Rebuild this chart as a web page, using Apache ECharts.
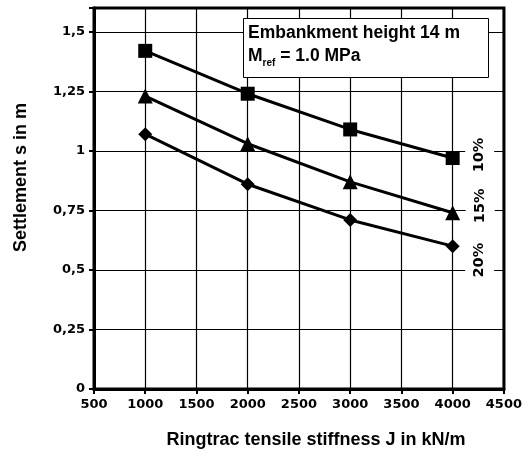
<!DOCTYPE html>
<html>
<head>
<meta charset="utf-8">
<script src="https://cdn.jsdelivr.net/npm/echarts@6/dist/echarts.min.js"></script>
<style>
  html, body { margin: 0; padding: 0; background: #fff; }
  #chart { width: 525px; height: 455px; }
</style>
</head>
<body>
<div id="chart"></div>
<script>
// stiffness J in kN/m
var stiffness = [1000, 2000, 3000, 4000]
// settlement s in m, one array per geogrid ratio
var settle10 = [1.42, 1.24, 1.09, 0.97]
var settle15 = [1.23, 1.03, 0.87, 0.74]
var settle20 = [1.07, 0.86, 0.71, 0.60]
var curveNames = ['10%', '15%', '20%']

function fmtComma(v) {
  if (Math.abs(v / 0.25 - Math.round(v / 0.25)) > 1e-6) return ''
  return String(+v.toFixed(2)).replace('.', ',')
}

var tickFont = { fontFamily: 'DejaVu Sans', fontWeight: 'bold', fontSize: 13, color: '#000' }

// only the last point of each curve carries the name label
// offset is in the rotated label frame: negative x moves the label down
function curve(name, ys, symbol, size, shiftDown) {
  var data = stiffness.map(function (x, i) {
    if (i < ys.length - 1) return [x, ys[i]]
    return {
      value: [x, ys[i]],
      label: {
        show: true,
        position: 'right',
        distance: 20,
        rotate: 90,
        align: 'center',
        verticalAlign: 'middle',
        offset: [-shiftDown, 0],
        formatter: name,
        fontFamily: 'DejaVu Sans',
        fontWeight: 'bold',
        fontSize: 14.5,
        color: '#000',
        backgroundColor: '#fff',
        padding: [7, 1, 7, 1]
      }
    }
  })
  return {
    name: name,
    type: 'line',
    data: data,
    symbol: symbol,
    symbolSize: size,
    lineStyle: { color: '#000', width: 3 },
    itemStyle: { color: '#000' },
    label: { show: false },
    z: 5
  }
}

var chart = echarts.init(document.getElementById('chart'))
chart.setOption({
  animation: false,
  backgroundColor: '#fff',
  grid: { left: 94, right: 20, top: 8, bottom: 66, show: true, borderColor: '#000', borderWidth: 3, backgroundColor: 'transparent' },
  xAxis: {
    type: 'value',
    min: 500,
    max: 4500,
    interval: 500,
    name: 'Ringtrac tensile stiffness J in kN/m',
    nameLocation: 'middle',
    nameGap: 42,
    nameTextStyle: { fontFamily: 'Liberation Sans', fontWeight: 'bold', fontSize: 18, color: '#000', padding: [0, 0, 0, 34] },
    axisLine: { lineStyle: { color: '#000', width: 3 } },
    axisTick: { lineStyle: { color: '#000', width: 2 }, length: 5 },
    axisLabel: Object.assign({ margin: 9, formatter: function (v) { return String(v) } }, tickFont),
    splitLine: { lineStyle: { color: '#000', width: 1.2 } }
  },
  yAxis: {
    type: 'value',
    min: 0,
    max: 1.6,
    interval: 0.25,
    name: 'Settlement s in m',
    nameLocation: 'middle',
    nameGap: 64,
    nameTextStyle: { fontFamily: 'Liberation Sans', fontWeight: 'bold', fontSize: 18, color: '#000', padding: [0, 0, 0, 42] },
    axisLine: { show: true, lineStyle: { color: '#000', width: 3 } },
    axisTick: { show: true, lineStyle: { color: '#000', width: 2 }, length: 5 },
    axisLabel: Object.assign({ margin: 9, formatter: fmtComma }, tickFont),
    splitLine: { lineStyle: { color: '#000', width: 1.2 } }
  },
  series: [
    curve(curveNames[0], settle10, 'rect', 14, -3),
    curve(curveNames[1], settle15, 'triangle', 15, -7),
    curve(curveNames[2], settle20, 'diamond', 14, 14)
  ],
  graphic: [{
    type: 'rect',
    left: 243,
    top: 18,
    z: 100,
    shape: { width: 245, height: 59 },
    style: { fill: '#fff', stroke: '#000', lineWidth: 1 }
  }, {
    type: 'text',
    left: 248,
    top: 22,
    z: 101,
    style: {
      text: 'Embankment height 14 m\n{m|M}{sub|ref}{m| = 1.0 MPa}',
      fill: '#000',
      font: 'bold 17.5px "Liberation Sans"',
      lineHeight: 23,
      rich: {
        m: { fontFamily: 'Liberation Sans', fontWeight: 'bold', fontSize: 17.5, fill: '#000', lineHeight: 23 },
        sub: { fontFamily: 'Liberation Sans', fontWeight: 'bold', fontSize: 10, verticalAlign: 'bottom', padding: [9, 0, 0, 0], fill: '#000', lineHeight: 23 }
      }
    }
  }]
})
</script>
</body>
</html>
